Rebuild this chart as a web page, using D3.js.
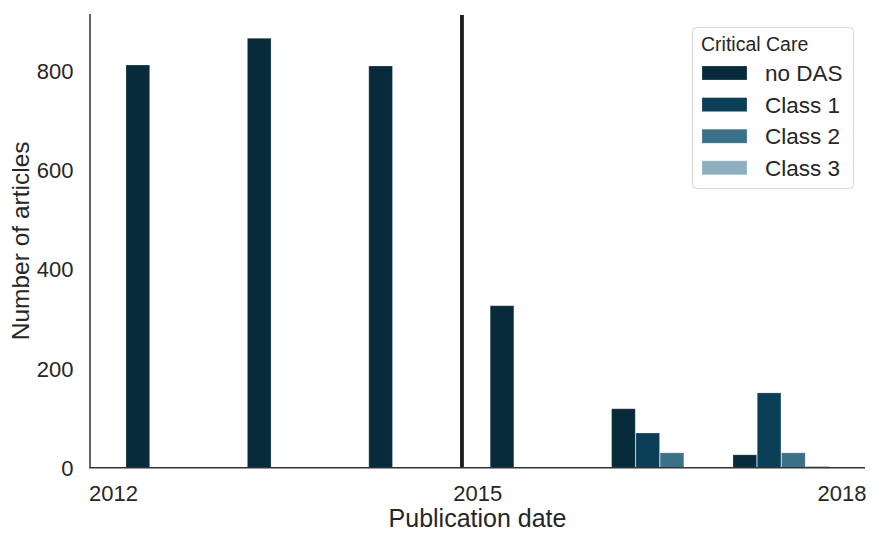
<!DOCTYPE html>
<html>
<head>
<meta charset="utf-8">
<script src="https://cdn.jsdelivr.net/npm/d3@7"></script>
<style>
  html, body { margin: 0; padding: 0; background: #fff; }
  svg { display: block; font-family: "Liberation Sans", Arial, sans-serif; }
</style>
</head>
<body>
<svg id="chart" width="881" height="540"></svg>
<script>
// ---- data ----
const years = [2012, 2013, 2014, 2015, 2016, 2017];
const seriesNames = ["no DAS", "Class 1", "Class 2", "Class 3"];
const noDAS  = [813, 867, 811, 327, 119, 26];
const class1 = [0, 0, 0, 0, 70, 151];
const class2 = [0, 0, 0, 0, 30, 30];
const class3 = [0, 0, 0, 0, 0, 3];
const seriesColors = ["#082b3c", "#0b3f57", "#3a7088", "#8eb0be"];
const xTicks = [2012, 2015, 2018];
const yTicks = [0, 200, 400, 600, 800];
const cutoffYear = 2014.87;
const legendTitle = "Critical Care";
const xLabel = "Publication date";
const yLabel = "Number of articles";

const seriesValues = [noDAS, class1, class2, class3];

(function () {
// ---- layout ----
const svg = d3.select("#chart");
const mLeft = 90, mRight = 865, mTop = 14, mBottom = 467.7;
const textColor = "#262626";

const x = d3.scaleLinear().domain([2011.806, 2018.19]).range([mLeft, mRight]);
const y = d3.scaleLinear().domain([0, 916]).range([mBottom, mTop]);

const barW = 0.195;
// bars
seriesValues.forEach((vals, k) => {
  svg.append("g").selectAll("rect")
    .data(years.map((yr, i) => ({yr, v: vals[i]})).filter(d => d.v > 0))
    .join("rect")
    .attr("x", d => x(d.yr + 0.2 * (k + 1) - barW / 2))
    .attr("width", d => x(d.yr + barW) - x(d.yr))
    .attr("y", d => y(d.v))
    .attr("height", d => y(0) - y(d.v))
    .attr("fill", seriesColors[k])
    .attr("stroke", "rgba(255,255,255,0.22)")
    .attr("stroke-width", 1);
});

// cutoff line
svg.append("line")
  .attr("x1", x(cutoffYear)).attr("x2", x(cutoffYear))
  .attr("y1", y(916) + 1).attr("y2", y(0))
  .attr("stroke", "#1a1a1a").attr("stroke-width", 3.8);

// spines
svg.append("line").attr("x1", mLeft).attr("x2", mLeft).attr("y1", mTop).attr("y2", mBottom)
  .attr("stroke", "#333").attr("stroke-width", 1.5);
svg.append("line").attr("x1", mLeft - 0.75).attr("x2", mRight).attr("y1", mBottom).attr("y2", mBottom)
  .attr("stroke", "#333").attr("stroke-width", 1.5);

// y tick labels
svg.append("g").selectAll("text").data(yTicks).join("text")
  .attr("x", 73.5).attr("y", d => y(d)).attr("dy", "0.36em")
  .attr("text-anchor", "end").attr("font-size", 22).attr("fill", textColor)
  .text(d => d);

// x tick labels
svg.append("g").selectAll("text").data(xTicks).join("text")
  .attr("x", d => x(d)).attr("y", 501)
  .attr("text-anchor", "middle").attr("font-size", 22).attr("fill", textColor)
  .text(d => d);

// axis labels
svg.append("text").attr("x", (mLeft + mRight) / 2).attr("y", 527)
  .attr("text-anchor", "middle").attr("font-size", 25).attr("fill", textColor)
  .text(xLabel);
svg.append("text")
  .attr("transform", `translate(29,${(mTop + mBottom) / 2}) rotate(-90)`)
  .attr("text-anchor", "middle").attr("font-size", 24.5).attr("fill", textColor)
  .text(yLabel);

// legend
const lg = svg.append("g");
lg.append("rect").attr("x", 692.5).attr("y", 27.5).attr("width", 161).attr("height", 161)
  .attr("rx", 4).attr("fill", "#fff").attr("stroke", "#d6d6d6").attr("stroke-width", 1);
lg.append("text").attr("x", 701).attr("y", 51).attr("font-size", 19.5).attr("fill", textColor)
  .text(legendTitle);
seriesNames.forEach((name, k) => {
  const cy = 73 + k * 31.6;
  lg.append("rect").attr("x", 702).attr("y", cy - 7).attr("width", 45).attr("height", 14)
    .attr("fill", seriesColors[k]).attr("stroke", "rgba(255,255,255,0.22)");
  lg.append("text").attr("x", 765).attr("y", cy).attr("dy", "0.36em")
    .attr("font-size", 22.5).attr("fill", textColor).text(name);
});
})();
</script>
</body>
</html>
